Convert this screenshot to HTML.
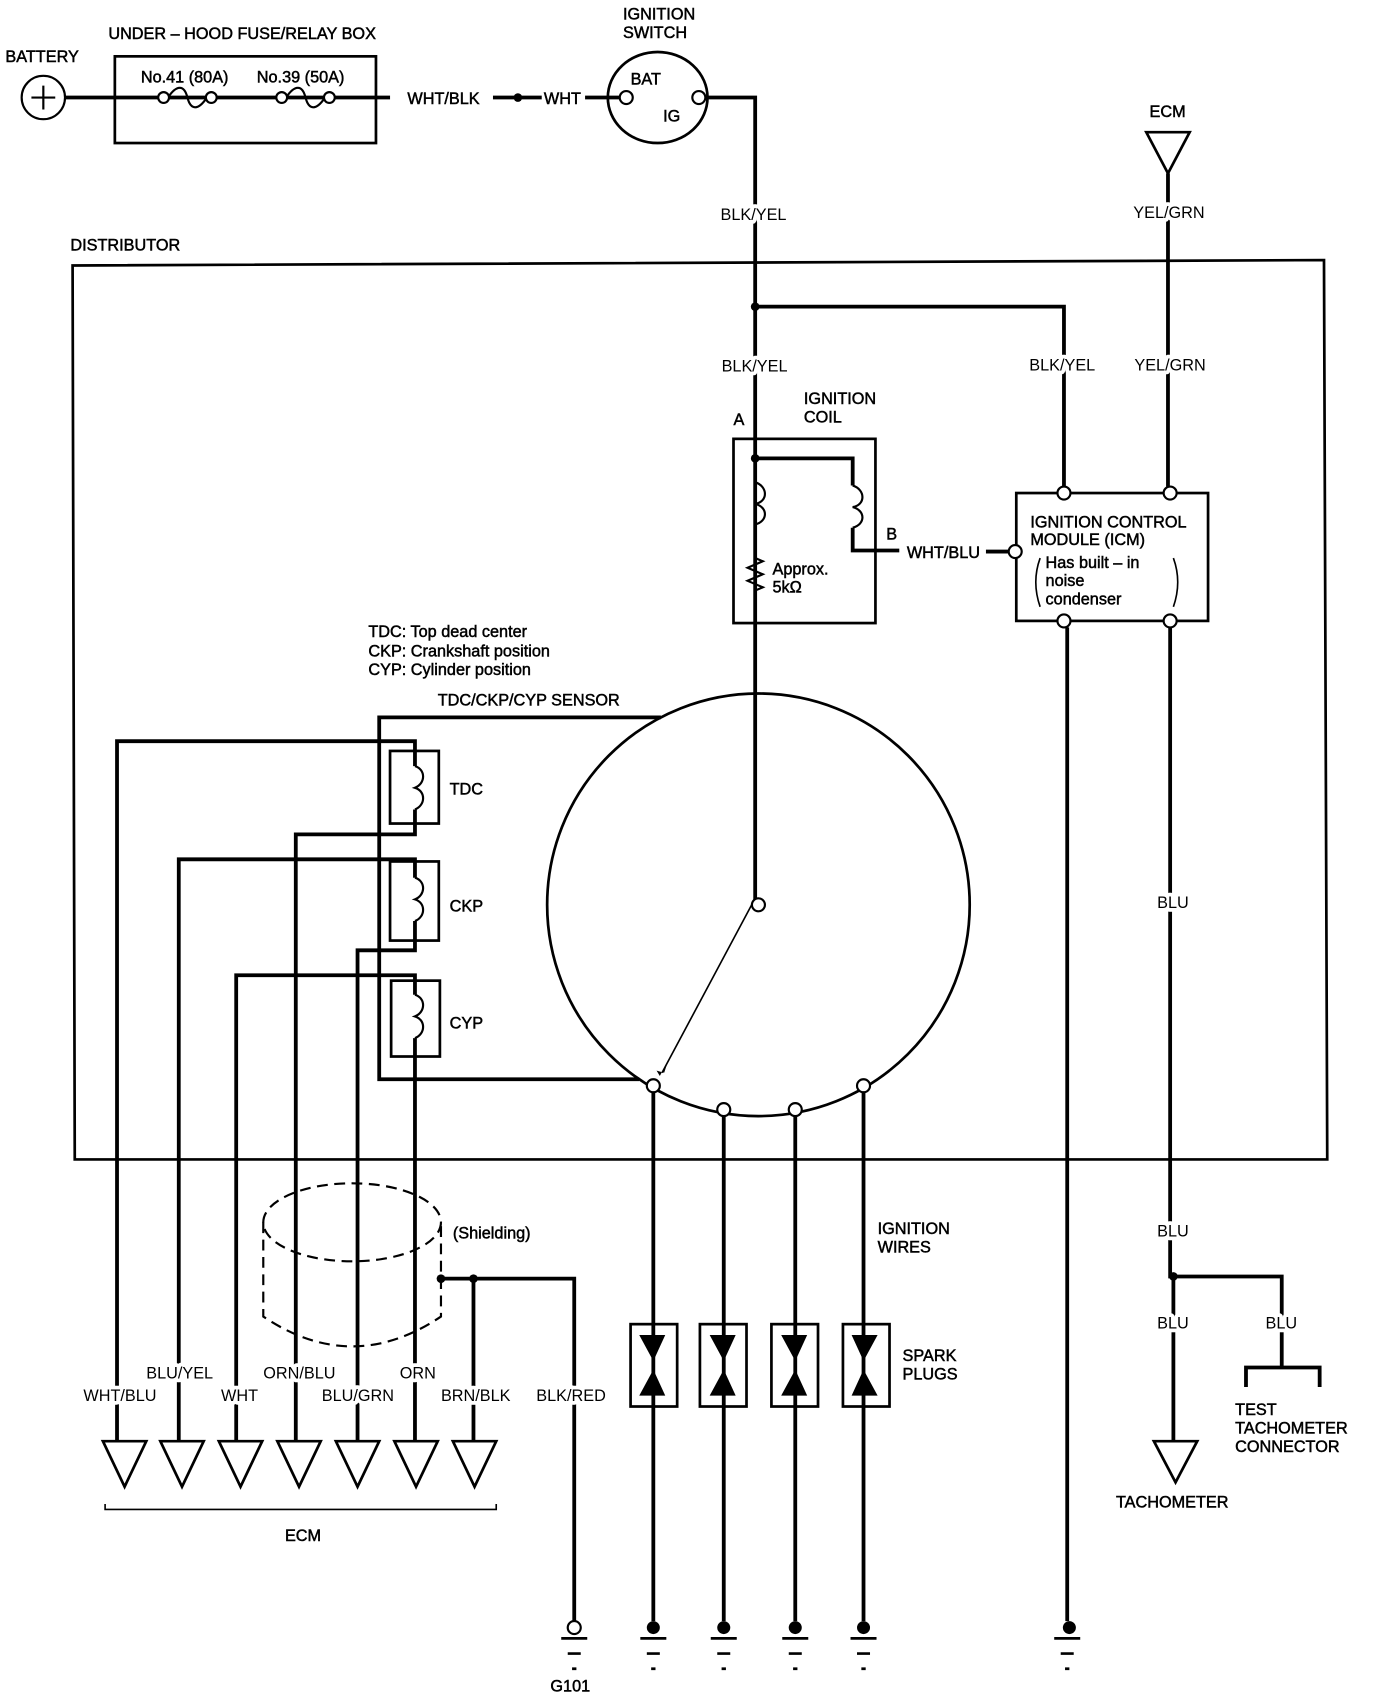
<!DOCTYPE html>
<html><head><meta charset="utf-8"><style>
html,body{margin:0;padding:0;background:#fff}
svg{display:block}
text{font-family:"Liberation Sans",sans-serif;font-size:15px;fill:#000;stroke:#000;stroke-width:0.45}
text.w{stroke:#fff;stroke-width:7;paint-order:stroke;stroke-linejoin:round}
</style></head><body>
<svg width="1376" height="1698" viewBox="0 0 1270 1567" preserveAspectRatio="none" xmlns="http://www.w3.org/2000/svg">
<g fill="none" stroke="#000" stroke-width="3.5">
<circle cx="40" cy="90" r="20" stroke-width="2"/>
<path d="M40 79V101M29 90H51" stroke-width="2"/>
<path d="M60 90H148M154 90H192M198 90H257M263 90H301M307 90H360"/>
<rect x="106" y="52" width="241" height="80" stroke-width="2.5"/>
<path d="M155 90C163 78 170 78 173 90S183 102 191 90" stroke-width="2"/>
<path d="M264 90C272 78 279 78 282 90S292 102 300 90" stroke-width="2"/>
<path d="M455 90H500M540 90H573"/>
<ellipse cx="607" cy="90" rx="46" ry="42" stroke-width="2.5"/>
<path d="M650 90H697V835"/>
<path d="M697 283H982V449"/>
<path d="M1058 122H1098L1078 160Z" stroke-width="2.5"/>
<path d="M1078 160V449"/>
<path d="M67 245L1222 240L1225 1070H69Z" stroke-width="2.5"/>
<rect x="677" y="405" width="131" height="170" stroke-width="2.5"/>
<path d="M697 423H787V448M787 487V508H830"/>
<path d="M787 448c12 4 12 18 0 20c12 3 12 16 0 19" stroke-width="2"/>
<path d="M697 445c12 4 12 18 0 20c12 3 12 16 0 19" stroke-width="2"/>
<path d="M697 484V515l7 3-14 6 14 6-14 6 14 6-7 3V575" stroke-width="2"/>
<path d="M910 509H931"/>
<rect x="938" y="455" width="177" height="118" stroke-width="2.5"/>
<path d="M960 515Q952 537 960 560M1083 515Q1091 537 1083 560" stroke-width="1.5"/>
<path d="M985 579V1496M1080 579V1178H1183V1262M1083 1178V1330M1150 1280V1262H1218V1280"/>
<path d="M1065 1330H1105L1085 1368Z" stroke-width="2.5"/>
<circle cx="700" cy="835" r="195" stroke-width="2.5"/>
<path d="M697 829L611 990" stroke-width="1.5"/>
<path d="M603 1008V1496M668 1030V1496M734 1030V1496M797 1008V1496"/>
<rect x="582" y="1222" width="43" height="76" stroke-width="2.5"/>
<rect x="646" y="1222" width="43" height="76" stroke-width="2.5"/>
<rect x="712" y="1222" width="43" height="76" stroke-width="2.5"/>
<rect x="778" y="1222" width="43" height="76" stroke-width="2.5"/>
<path d="M610 662H350V996H590"/>
<rect x="360" y="693" width="45" height="67" stroke-width="2.5"/>
<rect x="360" y="795" width="45" height="73" stroke-width="2.5"/>
<rect x="361" y="905" width="45" height="70" stroke-width="2.5"/>
<path d="M108 1330V684H383V707M383 747V770H273V1330"/>
<path d="M165 1330V793H383V810M383 850V877H330V1330"/>
<path d="M218 1330V900H383V918M383 958V1330"/>
<path d="M383 707c10 3 10 16 0 20c10 3 10 16 0 20" stroke-width="2"/>
<path d="M383 810c10 3 10 16 0 20c10 3 10 16 0 20" stroke-width="2"/>
<path d="M383 918c10 3 10 16 0 20c10 3 10 16 0 20" stroke-width="2"/>
<path d="M407 1180H530V1496M437 1180V1330"/>
<g stroke-dasharray="10 6" stroke-width="2">
<ellipse cx="325" cy="1128" rx="82" ry="36"/>
<path d="M243 1128V1215Q325 1270 407 1215V1128"/>
</g>
<g stroke-width="2.5">
<path d="M95 1330H135L115 1372Z"/><path d="M148 1330H188L168 1372Z"/><path d="M202 1330H242L222 1372Z"/><path d="M256 1330H296L276 1372Z"/><path d="M310 1330H350L330 1372Z"/><path d="M364 1330H404L384 1372Z"/><path d="M418 1330H458L438 1372Z"/>
</g>
<path d="M97 1388V1393H458V1388" stroke-width="1.5"/>
<g stroke-width="2.5">
<path d="M518 1512H542M524 1526H536M528 1540H532"/>
<path d="M591 1512H615M597 1526H609M601 1540H605"/>
<path d="M656 1512H680M662 1526H674M666 1540H670"/>
<path d="M722 1512H746M728 1526H740M732 1540H736"/>
<path d="M785 1512H809M791 1526H803M795 1540H799"/>
<path d="M973 1512H997M979 1526H991M983 1540H987"/>
</g>
</g>
<g fill="#000">
<circle cx="478" cy="90" r="4"/><circle cx="697" cy="283" r="4"/><circle cx="697" cy="423" r="4"/>
<circle cx="1083" cy="1178" r="4"/><circle cx="407" cy="1180" r="4"/><circle cx="437" cy="1180" r="4"/>
<circle cx="603" cy="1502" r="6"/><circle cx="668" cy="1502" r="6"/><circle cx="734" cy="1502" r="6"/><circle cx="797" cy="1502" r="6"/><circle cx="987" cy="1502" r="6"/>
<path d="M590 1232H614L603 1256Z"/><path d="M590 1288H614L603 1264Z"/>
<path d="M655 1232H679L668 1256Z"/><path d="M655 1288H679L668 1264Z"/>
<path d="M721 1232H745L734 1256Z"/><path d="M721 1288H745L734 1264Z"/>
<path d="M786 1232H810L797 1256Z"/><path d="M786 1288H810L797 1264Z"/>
<path d="M609 993L617 978L613 990L606 988Z"/>
</g>
<g fill="#fff" stroke="#000" stroke-width="2">
<circle cx="151" cy="90" r="5"/><circle cx="195" cy="90" r="5"/><circle cx="260" cy="90" r="5"/><circle cx="304" cy="90" r="5"/>
<circle cx="578" cy="90" r="6"/><circle cx="645" cy="90" r="6"/>
<circle cx="982" cy="455" r="6"/><circle cx="1080" cy="455" r="6"/><circle cx="982" cy="573" r="6"/><circle cx="1080" cy="573" r="6"/>
<circle cx="937" cy="509" r="6"/>
<circle cx="700" cy="835" r="6"/>
<circle cx="603" cy="1002" r="6"/><circle cx="668" cy="1024" r="6"/><circle cx="734" cy="1024" r="6"/><circle cx="797" cy="1002" r="6"/>
<circle cx="530" cy="1502" r="6"/>
</g>
<g>
<text x="5" y="57">BATTERY</text>
<text x="100" y="36">UNDER – HOOD FUSE/RELAY BOX</text>
<text x="130" y="76">No.41 (80A)</text>
<text x="237" y="76">No.39 (50A)</text>
<text x="376" y="96">WHT/BLK</text>
<text x="502" y="96">WHT</text>
<text x="575" y="18">IGNITION</text>
<text x="575" y="35">SWITCH</text>
<text x="582" y="78">BAT</text>
<text x="612" y="112">IG</text>
<text x="1061" y="108">ECM</text>
<text class="w" x="665" y="203">BLK/YEL</text>
<text class="w" x="1046" y="201">YEL/GRN</text>
<text x="65" y="231">DISTRIBUTOR</text>
<text class="w" x="666" y="343">BLK/YEL</text>
<text class="w" x="950" y="342">BLK/YEL</text>
<text class="w" x="1047" y="342">YEL/GRN</text>
<text x="742" y="373">IGNITION</text>
<text x="742" y="390">COIL</text>
<text x="677" y="392">A</text>
<text x="818" y="498">B</text>
<text x="837" y="515">WHT/BLU</text>
<text x="713" y="530">Approx.</text>
<text x="713" y="547">5kΩ</text>
<text x="951" y="487">IGNITION CONTROL</text>
<text x="951" y="503">MODULE (ICM)</text>
<text x="965" y="524">Has built – in</text>
<text x="965" y="541">noise</text>
<text x="965" y="558">condenser</text>
<text x="340" y="588">TDC: Top dead center</text>
<text x="340" y="606">CKP: Crankshaft position</text>
<text x="340" y="623">CYP: Cylinder position</text>
<text x="404" y="651">TDC/CKP/CYP SENSOR</text>
<text x="415" y="733">TDC</text>
<text x="415" y="841">CKP</text>
<text x="415" y="949">CYP</text>
<text class="w" x="1068" y="838">BLU</text>
<text class="w" x="1068" y="1141">BLU</text>
<text class="w" x="1068" y="1226">BLU</text>
<text class="w" x="1168" y="1226">BLU</text>
<text x="1140" y="1306">TEST</text>
<text x="1140" y="1323">TACHOMETER</text>
<text x="1140" y="1340">CONNECTOR</text>
<text x="1030" y="1391">TACHOMETER</text>
<text x="418" y="1143">(Shielding)</text>
<text x="810" y="1139">IGNITION</text>
<text x="810" y="1156">WIRES</text>
<text x="833" y="1256">SPARK</text>
<text x="833" y="1273">PLUGS</text>
<text class="w" x="135" y="1272">BLU/YEL</text>
<text class="w" x="243" y="1272">ORN/BLU</text>
<text class="w" x="369" y="1272">ORN</text>
<text class="w" x="77" y="1293">WHT/BLU</text>
<text class="w" x="204" y="1293">WHT</text>
<text class="w" x="297" y="1293">BLU/GRN</text>
<text class="w" x="407" y="1293">BRN/BLK</text>
<text class="w" x="495" y="1293">BLK/RED</text>
<text x="263" y="1422">ECM</text>
<text x="508" y="1561">G101</text>
</g>
</svg>
</body></html>
